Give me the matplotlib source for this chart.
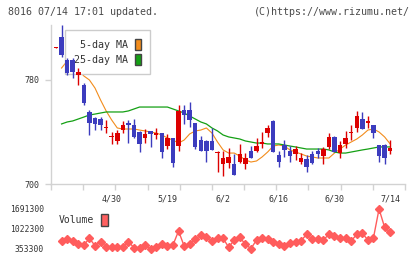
import matplotlib.pyplot as plt
from matplotlib.patches import Patch

# daily OHLC, oldest first (last day = 7/14)
opens = [804.5, 813, 795, 795, 784, 776, 755, 751, 750, 743, 736, 733, 741.5, 747, 745.4,
         740, 735.4, 741, 738, 739, 729, 735.4, 729, 757, 757, 747, 734, 733, 733, 724,
         715.4, 716.2, 715.4, 717, 715.4, 725.4, 725.4, 731, 739.2, 748.5, 722.3, 730, 725.4,
         723, 717, 719, 723, 725.4, 721.5, 728.5, 736.2, 723.8, 730.8, 739.5, 743, 750,
         747, 745.4, 730, 730, 725.4]
highs = [805, 822, 797, 797, 789, 778, 757, 751.5, 751.5, 749, 740, 741.5, 748.5, 749, 750,
         741, 742.3, 741, 743, 739.2, 738.5, 735.4, 760.8, 761, 763, 747, 737, 734, 743, 725.4,
         725.4, 727.7, 723, 731, 724, 729, 735.4, 740, 745.4, 749.2, 725.4, 733.8, 729.2,
         729.2, 724, 722.3, 725.4, 727.7, 728.5, 739.2, 737, 733, 740.8, 745.4, 756, 755.4,
         752.3, 745.4, 730, 730.8, 733.8]
lows = [804.5, 798, 784, 781.5, 776, 761, 738, 741.5, 741.5, 739, 731, 731, 739, 731.5, 735.4,
        724.6, 731.5, 728.5, 734.6, 720, 727, 713, 725.4, 746, 744, 727, 725.4, 717, 726, 709.2,
        706.2, 712.3, 707, 716, 711.5, 720, 724.6, 727.7, 736.2, 724.6, 713, 720.8, 717,
        718.5, 715.4, 709, 715.4, 720, 715.4, 727, 724.6, 720, 727.7, 733.8, 740, 742.3,
        743, 735.4, 717, 715.4, 723]
closes = [805, 799, 785, 786, 786, 762, 747, 746, 745, 744, 737, 739, 745.4, 745.5, 736.2,
          731, 738.5, 738.5, 739, 724.6, 735.4, 716.2, 756, 753, 749, 728.5, 725.4, 725.4, 726, 724.6,
          720, 720.8, 707, 723, 720, 720, 729.2, 732, 743, 724.6, 717, 726.2, 721.5,
          727, 720, 713, 716, 723, 727, 736.2, 724.6, 730, 735.4, 740, 752.3, 742.3,
          748.5, 739.2, 721.5, 720, 727.7]

# moving averages and volume start on the second day
ma5 = [789.2, 794.6, 791.5, 787.7, 783.1, 780.0, 773.8, 764.6, 756.2, 749.2, 743.1, 742.3,
       742.3, 742.3, 741.5, 740.8, 740.0, 739.2, 737.7, 735.4, 733.8, 731.5, 733.8, 738.5,
       740.8, 741.5, 743.1, 739.2, 732.3, 726.2, 723.8, 723.8, 721.5, 718.5, 716.9, 717.7,
       720.8, 724.6, 729.2, 730.0, 729.2, 726.2, 724.6, 723.1, 721.5, 720.8, 720.0, 720.0,
       720.0, 723.8, 726.9, 730.0, 732.3, 734.6, 737.7, 741.5, 742.3, 740.0, 736.2, 730.8]
ma25 = [746.2, 747.7, 748.5, 750.0, 751.5, 753.1, 753.8, 754.6, 755.4, 755.4, 755.4, 755.4,
        756.2, 757.7, 759.2, 759.2, 759.2, 759.2, 759.2, 759.2, 757.7, 756.2, 754.6, 752.3,
        750.0, 747.7, 746.2, 743.1, 740.8, 737.7, 736.2, 735.4, 734.6, 733.1, 732.3, 731.5,
        731.5, 730.8, 730.8, 730.8, 730.0, 729.2, 728.5, 727.7, 726.9, 726.9, 726.9, 726.9,
        726.2, 724.6, 723.8, 723.8, 724.6, 725.4, 726.2, 726.9, 727.7, 728.5, 728.5, 728.5]
volume = [631000, 677800, 620900, 510500, 487100, 711200, 463700, 597500, 430200, 410200,
          410200, 410200, 597500, 396800, 396800, 487100, 353300, 430200, 510500, 463700,
          487100, 955400, 453600, 510500, 677800, 821600, 764700, 620900, 711200, 711200,
          410200, 654300, 744700, 510500, 365000, 654300, 711200, 687800, 577400, 510500,
          453600, 544000, 597500, 630900, 845000, 687800, 677800, 654300, 845000, 798200,
          731300, 731300, 620900, 845000, 878500, 654300, 731300, 1691300, 1079200, 911900]

date_labels = ['4/30', '5/19', '6/2', '6/16', '6/30', '7/14']
date_pos = [10, 20, 30, 40, 50, 60]
price_ticks = [700, 780]
vol_ticks = [353300, 1022300, 1691300]

W, H = 420, 259
mono = 'DejaVu Sans Mono'
up_col, down_col = '#dc0000', '#3c3cbe'
grid_col = '#d2d2d2'
txt_col = '#333333'

fig = plt.figure(figsize=(W / 100, H / 100), dpi=100)
xlim = (-0.9, 62.66)

# price panel
ax = fig.add_axes([51 / W, (H - 184) / H, 354 / W, 159 / H])
ax.set_xlim(*xlim)
ax.set_ylim(700, 822.3)

x = list(range(len(opens)))
for i in x:
    c = up_col if closes[i] >= opens[i] else down_col
    ax.vlines(i, lows[i], highs[i], color=c, lw=1, zorder=4)
    lo = min(opens[i], closes[i])
    h = max(abs(closes[i] - opens[i]), 0.8)
    ax.bar(i, h, bottom=lo, width=0.8, color=c, zorder=4)

ma_x = x[1:]
ax.plot(ma_x, ma5, color='#f28c1c', lw=0.8, zorder=2)
ax.plot(ma_x, ma25, color='#14a014', lw=0.9, zorder=2)

for s in ['top', 'right']:
    ax.spines[s].set_visible(False)
for s in ['left', 'bottom']:
    ax.spines[s].set_color(grid_col)
    ax.spines[s].set_linewidth(1)

ax.set_yticks(price_ticks)
ax.set_yticklabels([str(t) for t in price_ticks], fontfamily=mono, fontsize=6, color=txt_col)
ax.tick_params(axis='y', length=4.5, width=1, color=grid_col, pad=3.5)

ax.set_xticks(date_pos)
ax.set_xticklabels(date_labels, fontfamily=mono, fontsize=6, color=txt_col)
ax.tick_params(axis='x', which='major', length=0, pad=7.5)
step = (xlim[1] - xlim[0]) / 11
ax.set_xticks([xlim[0] + k * step for k in range(12)], minor=True)
ax.tick_params(axis='x', which='minor', length=4.5, width=1, color=grid_col)

handles = [Patch(facecolor='#f28c1c', edgecolor='#444444', lw=1),
           Patch(facecolor='#14a014', edgecolor='#444444', lw=1)]
leg = ax.legend(handles, ['5-day MA', '25-day MA'], loc='upper left',
                bbox_to_anchor=(65 / W, 1 - 30 / H), bbox_transform=fig.transFigure,
                borderaxespad=0, markerfirst=False, handlelength=0.6, handleheight=1.3,
                handletextpad=0.7, borderpad=0.9, labelspacing=0.4, fancybox=False,
                framealpha=1, edgecolor='#cccccc', prop={'family': mono, 'size': 7.2})
leg.get_frame().set_linewidth(1)
for t in leg.get_texts():
    t.set_color(txt_col)
leg.set_zorder(3)

# volume panel
vax = fig.add_axes([51 / W, (H - 253) / H, 354 / W, 48 / H])
vax.set_xlim(*xlim)
vax.set_ylim(219500, 1825100)
vax.plot(ma_x, volume, color='#ff5c5c', lw=1, marker='D', ms=3.7, mec='#ff5c5c')
for s in vax.spines.values():
    s.set_visible(False)
vax.set_xticks([])
vax.set_yticks(vol_ticks)
vax.set_yticklabels([str(v) for v in vol_ticks], fontfamily=mono, fontsize=5.8, color=txt_col)
vax.tick_params(axis='y', length=0, pad=5)
vleg = vax.legend([Patch(facecolor='#ff6060', edgecolor='#444444', lw=1)], ['Volume'],
                  loc='upper left', bbox_to_anchor=(59 / W, 1 - 214 / H),
                  bbox_transform=fig.transFigure, borderaxespad=0, borderpad=0,
                  markerfirst=False, handlelength=0.7, handleheight=1.5, handletextpad=0.7,
                  frameon=False, prop={'family': mono, 'size': 7})
for t in vleg.get_texts():
    t.set_color(txt_col)

fig.text(8 / W, 1 - 12 / H, '8016 07/14 17:01 updated.', fontfamily=mono, fontsize=7.2,
         color='#4a4a4a', va='center', ha='left')
fig.text(410 / W, 1 - 12 / H, '(C)https://www.rizumu.net/', fontfamily=mono, fontsize=7.2,
         color='#4a4a4a', va='center', ha='right')

fig.savefig('out.png', dpi=100)
